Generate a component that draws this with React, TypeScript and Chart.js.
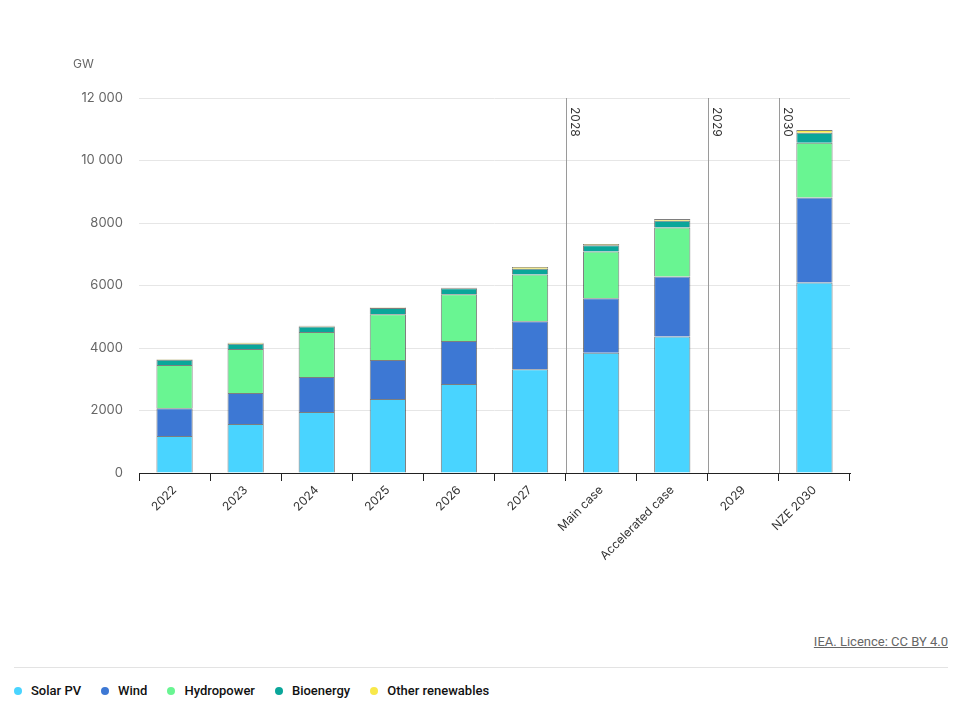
import React, { useEffect, useRef } from "react";
import { Chart, registerables } from "chart.js";

Chart.register(...registerables);

const categories = ["2022", "2023", "2024", "2025", "2026", "2027", "Main case", "Accelerated case", "2029", "NZE 2030"];
const solarPV = [1185, 1570, 1950, 2370, 2850, 3320, 3850, 4370, null, 6100];
const wind = [885, 990, 1120, 1250, 1375, 1535, 1740, 1920, null, 2720];
const hydropower = [1385, 1410, 1440, 1460, 1495, 1495, 1495, 1570, null, 1750];
const bioenergy = [170, 170, 180, 200, 190, 190, 200, 215, null, 320];
const otherRenewables = [15, 30, 20, 15, 15, 50, 45, 50, null, 85];
const seriesNames = ["Solar PV", "Wind", "Hydropower", "Bioenergy", "Other renewables"];
const seriesColors = ["#49d4ff", "#3d78d4", "#69f592", "#0aa69a", "#f8e84a"];
const dividerLabels = ["2028", "2029", "2030"];
const dividerIndexes = [6, 8, 9];

const FONT = "Inter, 'Noto Sans', sans-serif";

const dividerPlugin = {
  id: "dividers",
  afterDatasetsDraw(chart: any) {
    const { ctx, chartArea, scales } = chart;
    const x = scales.x;
    ctx.save();
    dividerIndexes.forEach((idx, k) => {
      const px = Math.round((x.getPixelForValue(idx - 1) + x.getPixelForValue(idx)) / 2) + 0.5;
      ctx.strokeStyle = "#9a9a9a";
      ctx.lineWidth = 1;
      ctx.beginPath();
      ctx.moveTo(px, chartArea.top);
      ctx.lineTo(px, chartArea.bottom);
      ctx.stroke();
      ctx.save();
      ctx.translate(px + 2, chartArea.top + 9);
      ctx.rotate(Math.PI / 2);
      ctx.fillStyle = "#333";
      ctx.font = `12px ${FONT}`;
      ctx.textAlign = "left";
      ctx.textBaseline = "top";
      ctx.fillText(dividerLabels[k], 0, -12);
      ctx.restore();
    });
    ctx.fillStyle = "#666";
    ctx.font = `12px ${FONT}`;
    ctx.textAlign = "left";
    ctx.textBaseline = "middle";
    ctx.fillText("GW", 73, 64);
    ctx.restore();
  },
};

export default function App() {
  const canvasRef = useRef<HTMLCanvasElement>(null);

  useEffect(() => {
    const data = [solarPV, wind, hydropower, bioenergy, otherRenewables];
    const chart = new Chart(canvasRef.current!, {
      type: "bar",
      data: {
        labels: categories,
        datasets: data.map((d, i) => ({
          label: seriesNames[i],
          data: d,
          backgroundColor: seriesColors[i],
          borderColor: "rgba(40,40,40,0.6)",
          borderWidth: 1,
          barPercentage: 1,
          categoryPercentage: 0.51,
        })),
      },
      options: {
        animation: false,
        responsive: false,
        maintainAspectRatio: false,
        layout: { padding: { top: 98, right: 114, left: 0, bottom: 0 } },
        plugins: { legend: { display: false }, tooltip: { enabled: false } },
        scales: {
          x: {
            stacked: true,
            afterFit: (s: any) => { s.height = 127; },
            grid: { display: true, drawOnChartArea: false, offset: true, tickLength: 8, color: "#222", lineWidth: 1 },
            border: { display: true, color: "#222", width: 1 },
            ticks: { maxRotation: 45, minRotation: 45, color: "#333", font: { family: FONT, size: 12 }, autoSkip: false, padding: 2 },
          },
          y: {
            stacked: true,
            min: 0,
            max: 12000,
            afterFit: (s: any) => { s.width = 139; },
            grid: { color: "#e6e6e6", drawTicks: false },
            border: { display: false },
            ticks: {
              stepSize: 2000,
              color: "#666",
              padding: 16,
              font: { family: FONT, size: 13 },
              callback: (v: any) => (v >= 10000 ? `${Math.floor(v / 1000)} ${String(v % 1000).padStart(3, "0")}` : String(v)),
            },
          },
        },
      },
      plugins: [dividerPlugin],
    });
    return () => chart.destroy();
  }, []);

  return (
    <div style={{ position: "absolute", left: 0, top: 0, width: 964, height: 712, background: "#fff", fontFamily: FONT }}>
      <canvas ref={canvasRef} width={964} height={600} style={{ position: "absolute", left: 0, top: 0, width: 964, height: 600 }} />
      <div style={{ position: "absolute", right: 16, top: 634, fontSize: 13, color: "#666", textDecoration: "underline", fontFamily: "Roboto, sans-serif" }}>
        IEA. Licence: CC BY 4.0
      </div>
      <div style={{ position: "absolute", left: 14, width: 934, top: 667, height: 1, background: "#e3e3e3" }} />
      <div style={{ position: "absolute", left: 14, top: 683, display: "flex", gap: 20, alignItems: "center", fontFamily: "Roboto, sans-serif", fontSize: 13, fontWeight: 500, color: "#111" }}>
        {seriesNames.map((n, i) => (
          <div key={n} style={{ display: "flex", alignItems: "center", gap: 9 }}>
            <span style={{ width: 8, height: 8, borderRadius: 4, background: seriesColors[i], display: "inline-block" }} />
            <span>{n}</span>
          </div>
        ))}
      </div>
    </div>
  );
}
